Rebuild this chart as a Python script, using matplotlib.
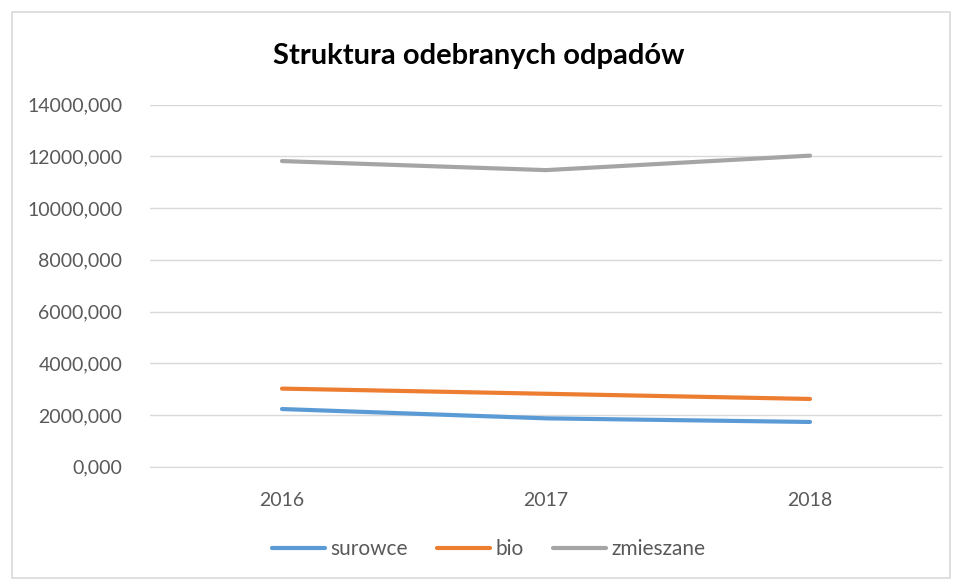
import matplotlib.pyplot as plt
from matplotlib.patches import Rectangle
from matplotlib.ticker import FuncFormatter

years = ["2016", "2017", "2018"]
surowce = [2230, 1870, 1730]
bio = [3020, 2820, 2620]
zmieszane = [11820, 11470, 12030]

plt.rcParams['font.family'] = ['Lato', 'DejaVu Sans']

fig = plt.figure(figsize=(9.58, 5.81), dpi=100)
fig.patches.append(Rectangle((12 / 958, 3 / 581), 938 / 958, 566 / 581,
                             transform=fig.transFigure, fill=False,
                             edgecolor='#d9d9d9', linewidth=1.2))
ax = fig.add_axes([150 / 958, 1 - 466.7 / 581, 792 / 958, 362 / 581])

x = range(len(years))
ax.plot(x, surowce, color='#5b9bd5', lw=3, solid_capstyle='round', label='surowce')
ax.plot(x, bio, color='#ed7d31', lw=3, solid_capstyle='round', label='bio')
ax.plot(x, zmieszane, color='#a5a5a5', lw=3, solid_capstyle='round', label='zmieszane')

ax.set_xlim(-0.5, 2.5)
ax.set_ylim(0, 14000)
ax.set_yticks(range(0, 14001, 2000))
ax.yaxis.set_major_formatter(FuncFormatter(lambda v, p: f"{int(v)},000"))
ax.set_xticks(list(x))
ax.set_xticklabels(years)
ax.grid(axis='y', color='#d9d9d9', lw=1)
ax.set_axisbelow(True)
for s in ['top', 'right', 'left']:
    ax.spines[s].set_visible(False)
ax.spines['bottom'].set_color('#d9d9d9')
ax.tick_params(length=0, labelsize=14, labelcolor='#595959')
ax.tick_params(axis='y', pad=20)
ax.tick_params(axis='x', pad=18)

fig.text(0.5, 1 - 56 / 581, "Struktura odebranych odpadów", ha='center', va='center',
         fontsize=21, fontweight='bold', color='black')

fig.legend(loc='center', bbox_to_anchor=(0.51, 1 - 549 / 581), ncol=3, frameon=False,
           fontsize=15, labelcolor='#595959', handlelength=2.55, handletextpad=0.25,
           columnspacing=1.4)

plt.savefig("out.png", dpi=100)
